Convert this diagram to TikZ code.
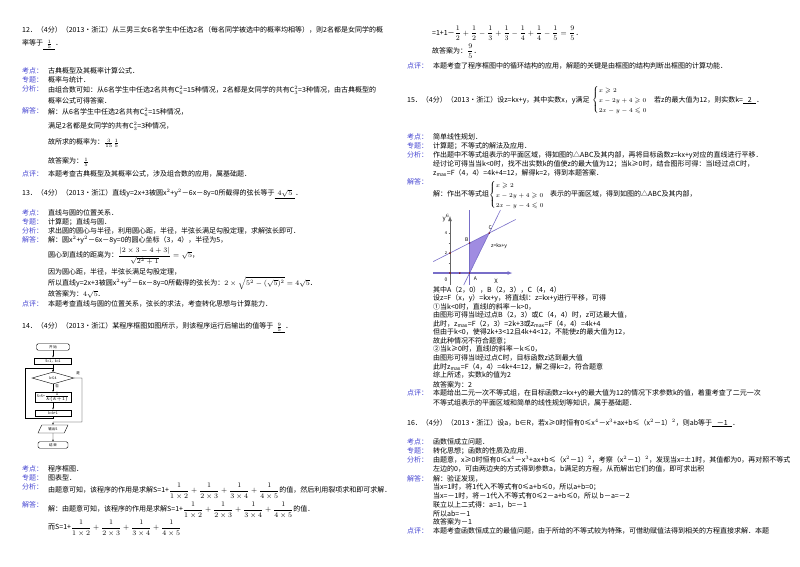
\documentclass[tikz,border=0pt]{standalone}
\usepackage{fontspec}
\usepackage{amsmath,amssymb}
\setmainfont{Noto Sans CJK SC}
\usetikzlibrary{shapes.geometric,arrows.meta}
\definecolor{lab}{RGB}{70,70,210}
\definecolor{reg}{RGB}{160,140,225}
\definecolor{ln}{RGB}{120,110,200}
\newcommand{\mysys}{$\left\{\renewcommand{\arraystretch}{1.25}\begin{array}{@{}l@{}}x\geqslant2\\x-2y+4\geqslant0\\2x-y-4\leqslant0\end{array}\right.$}
\begin{document}
\begin{tikzpicture}[x=1pt,y=-1pt,
 t/.style={anchor=west,inner sep=0,font=\fontsize{7}{8.5}\selectfont},
 l/.style={t,text=lab},
 sy/.style={anchor=west,inner sep=0,font=\fontsize{6.5}{8}\selectfont},
 fb/.style={draw,inner sep=0,minimum height=6.5,font=\fontsize{3.5}{4}\selectfont},
 fa/.style={-{Stealth[length=2pt]},line width=0.4pt}]
\path[use as bounding box,fill=white] (0,0) rectangle (800,566);
% ---------- left column ----------
\node[t] (q12) at (22,30) {12．（4分）（2013•浙江）从三男三女6名学生中任选2名（每名同学被选中的概率均相等），则2名都是女同学的概};
\node[t] (q12b) at (22,45) {率等于\underline{\ \ $\frac{1}{5}$\ \ }．};
\node[l] (k1) at (22,71) {考点：}; \node[t] (k1t) at (48,71) {古典概型及其概率计算公式．};
\node[l] (z1) at (22,80) {专题：}; \node[t] (z1t) at (48,80) {概率与统计．};
\node[l] (f1) at (22,89) {分析：}; \node[t] (f1t) at (48,90) {由组合数可知：从6名学生中任选2名共有$\mathrm{C}_6^2$=15种情况，2名都是女同学的共有$\mathrm{C}_3^2$=3种情况，由古典概型的};
\node[t] (f1u) at (48,101) {概率公式可得答案．};
\node[l] (j1) at (22,111) {解答：}; \node[t] (j1t) at (48,112) {解：从6名学生中任选2名共有$\mathrm{C}_6^2$=15种情况，};
\node[t] (j1u) at (48,126) {满足2名都是女同学的共有$\mathrm{C}_3^2$=3种情况，};
\node[t] (j1v) at (48,143) {故所求的概率为：$\frac{3}{15}\frac{1}{5}$};
\node[t] (j1w) at (48,162) {故答案为：$\frac{1}{5}$};
\node[l] (d1) at (22,174) {点评：}; \node[t] (d1t) at (48,174) {本题考查古典概型及其概率公式，涉及组合数的应用，属基础题．};
\node[t] (q13) at (22,194) {13．（4分）（2013•浙江）直线y=2x+3被圆x$^2$+y$^2$－6x－8y=0所截得的弦长等于\underline{\ \ $4\sqrt{5}$\ \ }．};
\node[l] (k2) at (22,213) {考点：}; \node[t] (k2t) at (48,213) {直线与圆的位置关系．};
\node[l] (z2) at (22,222) {专题：}; \node[t] (z2t) at (48,222) {计算题；直线与圆．};
\node[l] (f2) at (22,231) {分析：}; \node[t] (f2t) at (48,231) {求出圆的圆心与半径，利用圆心距，半径，半弦长满足勾股定理，求解弦长即可．};
\node[l] (j2) at (22,240) {解答：}; \node[t] (j2t) at (48,240) {解：圆x$^2$+y$^2$－6x－8y=0的圆心坐标（3，4），半径为5，};
\node[t] (j2u) at (48,256) {圆心到直线的距离为：$\dfrac{|2\times3-4+3|}{\sqrt{2^2+1}}=\sqrt{5}$，};
\node[t] (j2v) at (48,272) {因为圆心距，半径，半弦长满足勾股定理，};
\node[t] (j2w) at (48,283) {所以直线y=2x+3被圆x$^2$+y$^2$－6x－8y=0所截得的弦长为：$2\times\sqrt{5^2-(\sqrt{5})^2}=4\sqrt{5}$．};
\node[t] (j2x) at (48,294) {故答案为：$4\sqrt{5}$．};
\node[l] (d2) at (22,304) {点评：}; \node[t] (d2t) at (48,304) {本题考查直线与圆的位置关系，弦长的求法，考查转化思想与计算能力．};
\node[t] (q14) at (22,328) {14．（4分）（2013•浙江）某程序框图如图所示，则该程序运行后输出的值等于\underline{\ \ $\frac{9}{5}$\ \ }．};
% flowchart
\node[fb,rounded corners=1.5pt,minimum width=33] (st) at (53,347) {开\ 始};
\node[fb,minimum width=37] (ini) at (53,361) {S=1，k=1};
\node[fb,diamond,aspect=3.5,minimum width=42,minimum height=12] (dec) at (53,378) {k≤4};
\node[fb,minimum width=36,minimum height=10] (up) at (53,397) {S=S+$\frac{1}{k(k+1)}$};
\node[fb,minimum width=36] (kk) at (53,413) {k=k+1};
\node[fb,trapezium,trapezium left angle=65,trapezium right angle=115,minimum width=30,minimum height=8] (out) at (53,429) {输出S};
\node[fb,rounded corners=1.5pt,minimum width=30] (en) at (53,445) {结\ 束};
\node[inner sep=0,font=\fontsize{3.5}{4}\selectfont] (yes) at (78,373) {是};
\node[inner sep=0,font=\fontsize{3.5}{4}\selectfont] (no) at (57,386) {否};
\coordinate (j0) at (53,368);
\draw[fa] (st)--(ini); \draw[fa] (ini)--(dec); \draw[fa] (dec)--(up); \draw[fa] (up)--(kk);
\draw[fa] (kk.south)--(53,418)--(25,418)--(25,368)--(j0)--(dec.north);
\draw[fa] (dec.east)--(82,378)--(82,422)--(53,422)--(out.north);
\draw[fa] (out)--(en);
\node[l] (k3) at (22,469) {考点：}; \node[t] (k3t) at (48,469) {程序框图．};
\node[l] (z3) at (22,478) {专题：}; \node[t] (z3t) at (48,478) {图表型．};
\node[l] (f3) at (22,487) {分析：}; \node[t] (f3t) at (48,491) {由题意可知，该程序的作用是求解S=1+$\dfrac{1}{1\times2}+\dfrac{1}{2\times3}+\dfrac{1}{3\times4}+\dfrac{1}{4\times5}$的值，然后利用裂项求和即可求解．};
\node[l] (j3) at (22,505) {解答：}; \node[t] (j3t) at (48,510) {解：由题意可知，该程序的作用是求解S=1+$\dfrac{1}{1\times2}+\dfrac{1}{2\times3}+\dfrac{1}{3\times4}+\dfrac{1}{4\times5}$的值．};
\node[t] (j3u) at (48,528) {而S=1+$\dfrac{1}{1\times2}+\dfrac{1}{2\times3}+\dfrac{1}{3\times4}+\dfrac{1}{4\times5}$};
% ---------- right column ----------
\node[t] (r1) at (432,33) {=1+1－$\dfrac12+\dfrac12-\dfrac13+\dfrac13-\dfrac14+\dfrac14-\dfrac15=\dfrac95$．};
\node[t] (r2) at (432,51) {故答案为：$\dfrac{9}{5}$．};
\node[l] (d3) at (407,66) {点评：}; \node[t] (d3t) at (433,66) {本题考查了程序框图中的循环结构的应用，解题的关键是由框图的结构判断出框图的计算功能．};
\node[t] (q15) at (407,100) {15．（4分）（2013•浙江）设z=kx+y，其中实数x，y满足};
\node[sy] (sys) at (592,100) {\mysys};
\node[t] (q15b) at (654,100) {若z的最大值为12，则实数k=\underline{\ \ \ 2\ \ \ }．};
\node[l] (k4) at (407,137) {考点：}; \node[t] (k4t) at (433,137) {简单线性规划．};
\node[l] (z4) at (407,146) {专题：}; \node[t] (z4t) at (433,146) {计算题；不等式的解法及应用．};
\node[l] (f4) at (407,155) {分析：}; \node[t] (f4t) at (433,155) {作出题中不等式组表示的平面区域，得如图的△ABC及其内部，再将目标函数z=kx+y对应的直线进行平移．};
\node[t] (f4u) at (433,164) {经讨论可得当当k<0时，找不出实数k的值使z的最大值为12；当k≥0时，结合图形可得：当l经过点C时，};
\node[t] (f4v) at (433,173) {z$_{\max}$=F（4，4）=4k+4=12，解得k=2，得到本题答案．};
\node[l] (j4) at (407,182) {解答：};
\node[t] (j4t) at (433,194) {解：作出不等式组};
\node[sy] (sys2) at (489,195) {\mysys};
\node[t] (j4u) at (550,194) {表示的平面区域，得到如图的△ABC及其内部，};
% graph, origin (450,273), unit 10
\begin{scope}[shift={(450,273)},x=9.8pt,y=10pt]
\fill[reg] (2,0)--(2,3)--(4,4)--cycle;
\draw[ln,line width=0.6pt] (2,-1.2)--(2,6.3);
\draw[ln,line width=0.6pt] (-1.7,1.15)--(6.7,5.35);
\draw[ln,line width=0.6pt] (1.4,-1.2)--(5.15,6.3);
\draw[ln,line width=1.2pt,-{Latex[length=5pt]}] (-1.7,0)--(6.4,0);
\draw[black!60,line width=0.5pt,-{Latex[length=5pt]}] (0,-1.2)--(0,5.7);
\foreach \v in {1,2,3,4} \draw[black!60] (-0.15,\v)--(0.15,\v);
\foreach \p in {(0,0),(1,0),(2,0),(2,3),(4,4),(0,2)} \fill[red!50!black] \p circle (0.8pt);
\node[font=\fontsize{6}{6}\selectfont,inner sep=0] (ax) at (-0.4,5.5) {y$^{\scriptscriptstyle6}$};
\node[font=\fontsize{6}{6}\selectfont,inner sep=0] (axx) at (4.7,-0.8) {X};
\node[font=\fontsize{5}{5}\selectfont,inner sep=0] (o) at (-0.4,-0.7) {0};
\node[font=\fontsize{5}{5}\selectfont,inner sep=0] (pa) at (2.6,-0.6) {A};
\node[font=\fontsize{5}{5}\selectfont,inner sep=0] (pb) at (1.7,3.3) {B};
\node[font=\fontsize{5}{5}\selectfont,inner sep=0] (pc) at (4.1,4.5) {C};
\node[font=\fontsize{5}{5}\selectfont,inner sep=0] (zl) at (5.0,2.7) {z=kx+y};
\node[font=\fontsize{4}{4}\selectfont,inner sep=0] (n4) at (-0.4,4) {4};
\node[font=\fontsize{4}{4}\selectfont,inner sep=0] (n2) at (-0.4,2) {2};
\end{scope}
\node[t] (a1) at (433,290) {其中A（2，0），B（2，3），C（4，4）};
\node[t] (a2) at (433,298) {设z=F（x，y）=kx+y，将直线l：z=kx+y进行平移，可得};
\node[t] (a3) at (433,307) {①当k<0时，直线l的斜率－k>0，};
\node[t] (a4) at (433,315) {由图形可得当l经过点B（2，3）或C（4，4）时，z可达最大值，};
\node[t] (a5) at (433,324) {此时，z$_{\max}$=F（2，3）=2k+3或z$_{\max}$=F（4，4）=4k+4};
\node[t] (a6) at (433,332) {但由于k<0，使得2k+3<12且4k+4<12，不能使z的最大值为12，};
\node[t] (a7) at (433,341) {故此种情况不符合题意；};
\node[t] (a8) at (433,349) {②当k≥0时，直线l的斜率－k≤0，};
\node[t] (a9) at (433,358) {由图形可得当l经过点C时，目标函数z达到最大值};
\node[t] (a10) at (433,367) {此时z$_{\max}$=F（4，4）=4k+4=12，解之得k=2，符合题意};
\node[t] (a11) at (433,375) {综上所述，实数k的值为2};
\node[t] (a12) at (433,385) {故答案为：2};
\node[l] (d4) at (407,393) {点评：}; \node[t] (d4t) at (433,393) {本题给出二元一次不等式组，在目标函数z=kx+y的最大值为12的情况下求参数k的值，着重考查了二元一次};
\node[t] (d4u) at (433,403) {不等式组表示的平面区域和简单的线性规划等知识，属于基础题．};
\node[t] (q16) at (407,423) {16．（4分）（2013•浙江）设a，b∈R，若x≥0时恒有0≤x$^4$－x$^3$+ax+b≤（x$^2$－1）$^2$，则ab等于\underline{\ \ \ －1\ \ \ }．};
\node[l] (k5) at (407,442) {考点：}; \node[t] (k5t) at (433,442) {函数恒成立问题．};
\node[l] (z5) at (407,451) {专题：}; \node[t] (z5t) at (433,451) {转化思想；函数的性质及应用．};
\node[l] (f5) at (407,460) {分析：}; \node[t] (f5t) at (433,460) {由题意，x≥0时恒有0≤x$^4$－x$^3$+ax+b≤（x$^2$－1）$^2$，考察（x$^2$－1）$^2$，发现当x=±1时，其值都为0，再对照不等式};
\node[t] (f5u) at (433,469) {左边的0，可由两边夹的方式得到参数a，b满足的方程，从而解出它们的值，即可求出积};
\node[l] (j5) at (407,479) {解答：}; \node[t] (j5t) at (433,479) {解：验证发现，};
\node[t] (b1) at (433,487) {当x=1时，将1代入不等式有0≤a+b≤0，所以a+b=0；};
\node[t] (b2) at (433,496) {当x=－1时，将－1代入不等式有0≤2－a+b≤0，所以 b－a=－2};
\node[t] (b3) at (433,505) {联立以上二式得：a=1，b=－1};
\node[t] (b4) at (433,514) {所以ab=－1};
\node[t] (b5) at (433,522) {故答案为－1};
\node[l] (d5) at (407,531) {点评：}; \node[t] (d5t) at (433,531) {本题考查函数恒成立的最值问题，由于所给的不等式较为特殊，可借助赋值法得到相关的方程直接求解．本题};
\end{tikzpicture}
\end{document}
